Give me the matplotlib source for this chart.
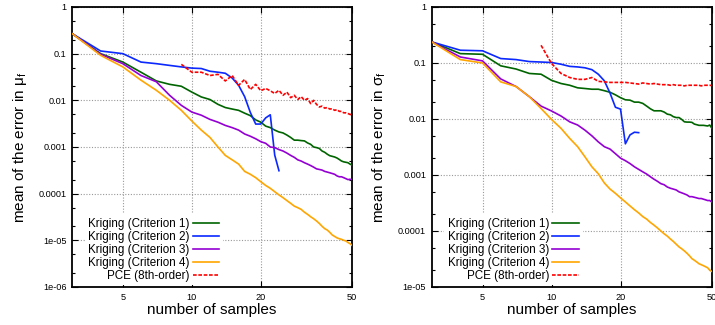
"""Plots the mean error of the Kriging and PCE surrogates against sample count."""

import matplotlib
matplotlib.use('Agg')
import matplotlib.pyplot as plt
import numpy as np
from matplotlib.ticker import FixedLocator, LogLocator, NullLocator

# Data
SAMPLES = np.arange(3, 51)
SAMPLES_C2 = np.arange(3, 25)
SAMPLES_PCE = np.arange(9, 51)

LABELS = ['Kriging (Criterion 1)', 'Kriging (Criterion 2)',
          'Kriging (Criterion 3)', 'Kriging (Criterion 4)',
          'PCE (8th-order)']

MU_C1 = [0.27, 0.10, 0.066, 0.040, 0.026, 0.022, 0.020, 0.015, 0.0118, 0.0104,
         0.0082, 0.0070, 0.0065, 0.0061, 0.0053, 0.0047, 0.0038, 0.0034,
         0.0028, 0.0026, 0.0023, 0.0021, 0.0020, 0.0018, 0.0016, 0.0014,
         0.0014, 0.00137, 0.00135, 0.00122, 0.00114, 0.0010, 0.00097, 0.00093,
         0.00082, 0.00077, 0.00070, 0.00065, 0.00063, 0.00061, 0.00058,
         0.00054, 0.00050, 0.00048, 0.00047, 0.00046, 0.00043, 0.00041]
MU_C2 = [0.27, 0.114, 0.10, 0.066, 0.061, 0.056, 0.052, 0.049, 0.048, 0.042,
         0.040, 0.038, 0.030, 0.021, 0.012, 0.0055, 0.0031, 0.0031, 0.0042,
         0.0049, 0.00067, 0.00031]
MU_C3 = [0.27, 0.097, 0.061, 0.034, 0.025, 0.0128, 0.0078, 0.0056, 0.0048,
         0.0039, 0.0034, 0.0029, 0.0026, 0.0023, 0.0019, 0.0017, 0.0015,
         0.0013, 0.0012, 0.0010, 0.00097, 0.00088, 0.00082, 0.00074, 0.00066,
         0.00060, 0.00053, 0.00050, 0.00046, 0.00043, 0.00040, 0.00037,
         0.00034, 0.00033, 0.00032, 0.00030, 0.00029, 0.00028, 0.00027,
         0.00026, 0.00024, 0.00023, 0.00023, 0.00022, 0.00021, 0.00020,
         0.000203, 0.00020]
MU_C4 = [0.27, 0.092, 0.052, 0.027, 0.0164, 0.010, 0.0061, 0.0036, 0.0023,
         0.0016, 0.0010, 0.00066, 0.00053, 0.00043, 0.00030, 0.00026, 0.00022,
         0.00018, 0.00015, 0.00013, 0.00011, 9.4e-05, 8.2e-05, 7.1e-05,
         6.2e-05, 5.4e-05, 5.0e-05, 4.6e-05, 4.0e-05, 3.6e-05, 3.2e-05,
         2.9e-05, 2.6e-05, 2.3e-05, 2.0e-05, 1.78e-05, 1.66e-05, 1.48e-05,
         1.3e-05, 1.21e-05, 1.13e-05, 1.08e-05, 1.05e-05, 1.0e-05, 9.7e-06,
         9.0e-06, 8.5e-06, 7.8e-06]
MU_PCE = [0.059, 0.040, 0.040, 0.034, 0.036, 0.026, 0.034, 0.021, 0.028,
          0.017, 0.022, 0.016, 0.018, 0.016, 0.014, 0.0164, 0.0128, 0.015,
          0.0114, 0.0128, 0.0104, 0.012, 0.010, 0.0109, 0.0085, 0.010, 0.0082,
          0.0072, 0.0075, 0.0068, 0.0070, 0.0065, 0.0066, 0.0061, 0.0063,
          0.0058, 0.0058, 0.0054, 0.0054, 0.0052, 0.0050, 0.0049]

SIGMA_C1 = [0.238, 0.147, 0.143, 0.089, 0.078, 0.065, 0.063, 0.049, 0.043,
            0.040, 0.036, 0.035, 0.034, 0.034, 0.032, 0.030, 0.027, 0.024,
            0.022, 0.0217, 0.020, 0.020, 0.019, 0.017, 0.0152, 0.014, 0.014,
            0.014, 0.0133, 0.0122, 0.0119, 0.011, 0.0106, 0.0106, 0.0098,
            0.0089, 0.0088, 0.0088, 0.0087, 0.0081, 0.0079, 0.0077, 0.0077,
            0.0077, 0.0076, 0.0075, 0.0078, 0.0069]
SIGMA_C2 = [0.238, 0.169, 0.165, 0.12, 0.115, 0.106, 0.104, 0.102, 0.095,
            0.087, 0.085, 0.082, 0.076, 0.063, 0.048, 0.029, 0.0162, 0.0150,
            0.0036, 0.0052, 0.0058, 0.0057]
SIGMA_C3 = [0.238, 0.128, 0.109, 0.052, 0.038, 0.025, 0.017, 0.0139, 0.0113,
            0.0089, 0.0078, 0.0063, 0.0050, 0.0039, 0.0032, 0.0029, 0.0024,
            0.0020, 0.0018, 0.0016, 0.0014, 0.00126, 0.00114, 0.00104,
            0.00093, 0.00084, 0.00077, 0.00070, 0.00067, 0.00061, 0.00058,
            0.00056, 0.00054, 0.00050, 0.00048, 0.00046, 0.00044, 0.00041,
            0.00041, 0.00040, 0.00039, 0.00038, 0.00038, 0.00037, 0.00036,
            0.00035, 0.00035, 0.00033]
SIGMA_C4 = [0.238, 0.115, 0.100, 0.046, 0.038, 0.025, 0.0154, 0.0098, 0.0068,
            0.0045, 0.0032, 0.0021, 0.0014, 0.00105, 0.00072, 0.00056,
            0.00047, 0.00039, 0.00033, 0.00028, 0.00024, 0.00021, 0.000181,
            0.000163, 0.000142, 0.000127, 0.000113, 0.000100, 8.9e-05,
            8.1e-05, 7.2e-05, 6.5e-05, 5.8e-05, 5.2e-05, 4.8e-05, 4.4e-05,
            4.0e-05, 3.6e-05, 3.2e-05, 3.0e-05, 2.8e-05, 2.6e-05, 2.5e-05,
            2.4e-05, 2.3e-05, 2.2e-05, 2.0e-05, 1.9e-05]
SIGMA_PCE = [0.207, 0.098, 0.065, 0.055, 0.051, 0.051, 0.055, 0.047, 0.046,
             0.045, 0.045, 0.045, 0.045, 0.044, 0.043, 0.042, 0.044, 0.043,
             0.042, 0.043, 0.042, 0.041, 0.041, 0.041, 0.040, 0.041, 0.040,
             0.040, 0.040, 0.039, 0.040, 0.040, 0.040, 0.040, 0.040, 0.040,
             0.039, 0.040, 0.040, 0.040, 0.040, 0.0396]

XTICKS = [5, 10, 20, 50]
MU_YTICKS = [1e-6, 1e-5, 1e-4, 1e-3, 1e-2, 1e-1, 1]
MU_YLABELS = ['1e-06', '1e-05', '0.0001', '0.001', '0.01', '0.1', '1']
SIGMA_YTICKS = [1e-5, 1e-4, 1e-3, 1e-2, 1e-1, 1]
SIGMA_YLABELS = ['1e-05', '0.0001', '0.001', '0.01', '0.1', '1']

COLORS = ['#006400', '#0a28ff', '#9400d3', '#ffa500', '#ff0000']


def panel(axes, series, yticks, ylabels, ylabel):
    """Draws one log-log error panel."""
    xs = [SAMPLES, SAMPLES_C2, SAMPLES, SAMPLES, SAMPLES_PCE]
    for i, (x, y) in enumerate(zip(xs, series)):
        style = (0, (2.2, 1.0)) if i == 4 else '-'
        axes.plot(x, y, color=COLORS[i], lw=1.2, ls=style, label=LABELS[i],
                  zorder=3)

    axes.set_xscale('log')
    axes.set_yscale('log')
    axes.set_xlim(3, 50)
    axes.set_ylim(yticks[0], yticks[-1])

    axes.xaxis.set_major_locator(FixedLocator(XTICKS))
    axes.xaxis.set_minor_locator(NullLocator())
    axes.set_xticklabels([str(t) for t in XTICKS])
    axes.yaxis.set_major_locator(FixedLocator(yticks))
    axes.yaxis.set_minor_locator(LogLocator(base=10, subs=(2.0, 5.0)))
    axes.set_yticklabels(ylabels)
    axes.yaxis.set_minor_formatter(plt.NullFormatter())

    axes.tick_params(which='both', direction='in', top=True, right=True,
                     labelsize=6.6, pad=4, width=0.8)
    axes.tick_params(which='major', length=4)
    axes.tick_params(which='minor', length=2.5)
    for spine in axes.spines.values():
        spine.set_linewidth(1.3)

    axes.grid(True, which='major', color='#999999', ls=(0, (1, 1.5)),
              lw=0.8, zorder=0)
    axes.set_xlabel('number of samples', fontsize=11, labelpad=1)
    axes.set_ylabel(ylabel, fontsize=11, labelpad=7)

    legend = axes.legend(loc='lower right', bbox_to_anchor=(0.545, 0.0),
                         markerfirst=False, fontsize=8.4, handlelength=2.3,
                         handletextpad=0.25, labelspacing=0.08,
                         borderpad=0.3, borderaxespad=0.15, frameon=True,
                         fancybox=False)
    legend.get_frame().set_facecolor('white')
    legend.get_frame().set_edgecolor('none')
    legend.get_frame().set_alpha(1.0)
    legend.set_zorder(5)


def main():
    """Plots both panels and saves the figure."""
    plt.rcParams['font.family'] = ['Liberation Sans', 'DejaVu Sans']
    plt.rcParams['mathtext.fontset'] = 'custom'
    plt.rcParams['mathtext.rm'] = 'Liberation Sans'
    plt.rcParams['mathtext.it'] = 'Liberation Sans:italic'

    # Figure
    fig = plt.figure(figsize=(7.15, 3.25), dpi=100)
    left = fig.add_axes([0.1007, 0.117, 0.3916, 0.8615])
    right = fig.add_axes([0.6038, 0.117, 0.3916, 0.8615])

    # Plot
    panel(left, [MU_C1, MU_C2, MU_C3, MU_C4, MU_PCE], MU_YTICKS, MU_YLABELS,
          r'mean of the error in $\mathrm{\mu_f}$')
    panel(right, [SIGMA_C1, SIGMA_C2, SIGMA_C3, SIGMA_C4, SIGMA_PCE],
          SIGMA_YTICKS, SIGMA_YLABELS,
          r'mean of the error in $\mathrm{\sigma_f}$')

    # Save
    fig.savefig('out.png', dpi=100)
    plt.close(fig)


if __name__ == '__main__':
    main()
